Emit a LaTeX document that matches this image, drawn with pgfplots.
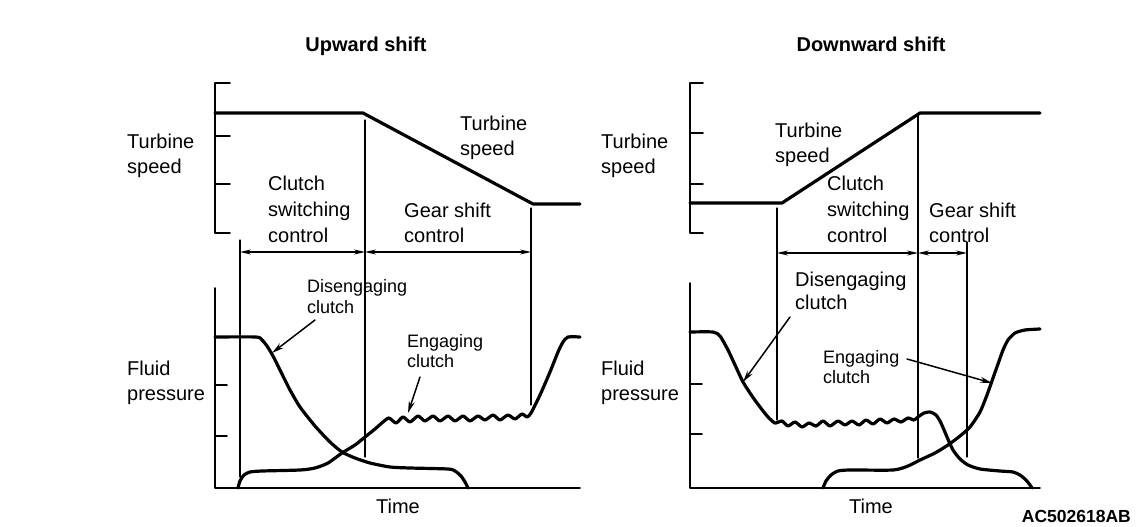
\documentclass[border=0pt]{standalone}
\usepackage{fontspec}
\setmainfont{Liberation Sans}
\usepackage{pgfplots}
\pgfplotsset{compat=1.18}
\usetikzlibrary{arrows.meta}

\tikzset{
  axisline/.style={line width=1.8pt},
  curve/.style={line width=3.2pt, smooth, tension=0.4},
  guide/.style={line width=1.2pt},
  dim/.style={line width=1.4pt, {Stealth[length=11pt,width=5pt]}-{Stealth[length=11pt,width=5pt]}},
  pointer/.style={line width=1.5pt, -{Stealth[length=12pt,width=6pt]}},
  big/.style={font=\fontsize{20}{24}\selectfont, anchor=base west, inner sep=0pt},
  small/.style={font=\fontsize{18}{22}\selectfont, anchor=base west, inner sep=0pt},
}

\begin{document}
\begin{tikzpicture}
  \begin{axis}[
      width=1145pt, height=527pt, scale only axis,
      xmin=0, xmax=1145, ymin=0, ymax=527, y dir=reverse,
      hide axis, clip=false,
      every axis plot/.append style={black, line join=round, line cap=round},
    ]
    % page frame
    \addplot[draw=none] coordinates {(0,0) (1145,527)};

    % ---------------- upward shift ----------------
    \addplot[axisline] coordinates {(230,83) (215,83) (215,233) (230,233)};
    \addplot[axisline] coordinates {(215,136) (230,136)};
    \addplot[axisline] coordinates {(215,184) (230,184)};
    \addplot[line width=3.2pt] coordinates {(215,113) (363,113) (533,204) (580,204)};

    \addplot[axisline] coordinates {(215,288) (215,488) (580,488)};
    \addplot[axisline] coordinates {(215,385) (227,385)};
    \addplot[axisline] coordinates {(215,436) (227,436)};

    \addplot[guide] coordinates {(240,240) (240,477)};
    \addplot[guide] coordinates {(365,120) (365,457)};
    \addplot[guide] coordinates {(531,208) (531,405)};
    \addplot[dim] coordinates {(240,252) (365,252)};
    \addplot[dim] coordinates {(365,252) (531,252)};

    % disengaging clutch
    \addplot[curve] coordinates {
      (215,337) (256,337) (262,340) (267,346) (273,356) (280,370) (290,390)
      (300,407) (315,426) (330,442) (342,452) (355,458) (370,463) (390,467)
      (410,468) (448,469) (455,471) (461,476) (465,482) (468,488)
    };
    % engaging clutch
    \addplot[curve] coordinates {
      (238,488) (240,481) (244,475) (250,472) (262,471) (300,470) (315,468)
      (328,463) (342,453) (355,445) (365,437) (375,429) (383,422)
      (389,418) (396,423) (403,417) (410,422) (418,416) (425,421) (433,416)
      (440,421) (448,416) (455,421) (463,416) (470,421) (478,416) (485,420)
      (493,415) (500,420) (508,415) (515,419) (522,414) (527,417) (531,413)
      (540,395) (550,372) (558,352) (563,342) (568,337) (580,337)
    };
    \addplot[pointer] coordinates {(315,320) (272,353)};
    \addplot[pointer] coordinates {(420,377) (408,413)};

    \node[font=\fontsize{20}{24}\selectfont\bfseries, anchor=base, inner sep=0pt] at (axis cs:366,52) {Upward shift};
    \node[big] at (axis cs:127,148) {Turbine};
    \node[big] at (axis cs:127,173) {speed};
    \node[big] at (axis cs:460,130) {Turbine};
    \node[big] at (axis cs:460,155) {speed};
    \node[big] at (axis cs:268,190) {Clutch};
    \node[big] at (axis cs:268,216) {switching};
    \node[big] at (axis cs:268,242) {control};
    \node[big] at (axis cs:404,217) {Gear shift};
    \node[big] at (axis cs:404,242) {control};
    \node[big] at (axis cs:127,375) {Fluid};
    \node[big] at (axis cs:127,400) {pressure};
    \node[small] at (axis cs:307,292) {Disengaging};
    \node[small] at (axis cs:307,313) {clutch};
    \node[small] at (axis cs:407,347) {Engaging};
    \node[small] at (axis cs:407,367) {clutch};
    \node[font=\fontsize{20}{24}\selectfont, anchor=base, inner sep=0pt] at (axis cs:398,513) {Time};

    % ---------------- downward shift ----------------
    \addplot[axisline] coordinates {(703,83) (690,83) (690,233) (703,233)};
    \addplot[axisline] coordinates {(690,133) (703,133)};
    \addplot[axisline] coordinates {(690,184) (703,184)};
    \addplot[line width=3.2pt] coordinates {(690,203) (782,203) (920,113) (1040,113)};

    \addplot[axisline] coordinates {(690,283) (690,488) (1040,488)};
    \addplot[axisline] coordinates {(690,384) (702,384)};
    \addplot[axisline] coordinates {(690,434) (702,434)};

    \addplot[guide] coordinates {(777,208) (777,420)};
    \addplot[guide] coordinates {(918,115) (918,458)};
    \addplot[guide] coordinates {(967,242) (967,457)};
    \addplot[dim] coordinates {(777,253) (918,253)};
    \addplot[dim] coordinates {(918,253) (967,253)};

    % disengaging clutch
    \addplot[curve] coordinates {
      (690,332) (713,332) (720,336) (728,350) (735,365) (743,382) (752,396)
      (760,407) (768,417) (775,423) (782,421) (788,426) (795,422) (802,427)
      (809,423) (816,426) (823,421) (830,426) (838,421) (845,425) (852,421)
      (859,425) (866,420) (873,424) (880,419) (887,423) (894,419) (901,422)
      (908,418) (914,420) (918,417) (924,413) (930,412) (936,415) (941,423)
      (947,437) (953,450) (960,459) (968,465) (980,469) (1000,471) (1013,472)
      (1020,475) (1026,480) (1030,485) (1032,488)
    };
    % engaging clutch
    \addplot[curve] coordinates {
      (823,488) (826,481) (831,475) (838,471) (850,470) (893,470) (908,466)
      (920,460) (935,453) (948,445) (960,436) (970,427) (980,412) (987,395)
      (993,378) (998,364) (1003,350) (1008,340) (1015,333) (1025,330) (1040,329)
    };
    \addplot[pointer] coordinates {(790,317) (743,382)};
    \addplot[pointer] coordinates {(907,359) (992,383)};

    \node[font=\fontsize{20}{24}\selectfont\bfseries, anchor=base, inner sep=0pt] at (axis cs:871,52) {Downward shift};
    \node[big] at (axis cs:601,148) {Turbine};
    \node[big] at (axis cs:601,173) {speed};
    \node[big] at (axis cs:775,137) {Turbine};
    \node[big] at (axis cs:775,162) {speed};
    \node[big] at (axis cs:827,190) {Clutch};
    \node[big] at (axis cs:827,216) {switching};
    \node[big] at (axis cs:827,242) {control};
    \node[big] at (axis cs:929,217) {Gear shift};
    \node[big] at (axis cs:929,242) {control};
    \node[big] at (axis cs:601,375) {Fluid};
    \node[big] at (axis cs:601,400) {pressure};
    \node[big] at (axis cs:795,286) {Disengaging};
    \node[big] at (axis cs:795,309) {clutch};
    \node[small] at (axis cs:823,363) {Engaging};
    \node[small] at (axis cs:823,383) {clutch};
    \node[font=\fontsize{20}{24}\selectfont, anchor=base, inner sep=0pt] at (axis cs:871,513) {Time};

    \node[font=\fontsize{17.5}{21}\selectfont\bfseries, anchor=base east, inner sep=0pt] at (axis cs:1131,522) {AC502618AB};
  \end{axis}
\end{tikzpicture}
\end{document}
